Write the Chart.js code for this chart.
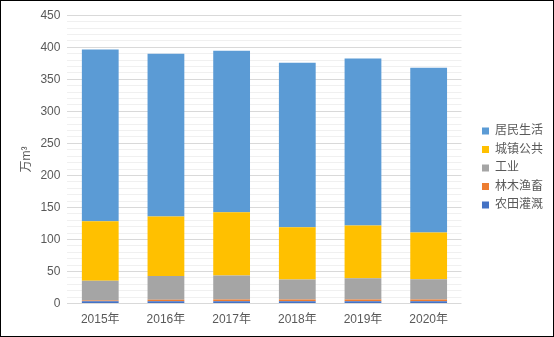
<!DOCTYPE html>
<html lang="zh">
<head>
<meta charset="UTF-8">
<script src="https://cdn.jsdelivr.net/npm/chart.js@4/dist/chart.umd.min.js"></script>
<title>用水量</title>
<style>
    html, body { margin: 0; padding: 0; background: #fff; }
    #box {
        width: 552px;
        height: 335px;
        border: 1px solid #000;
        position: relative;
    }
</style>
</head>
<body>
<div id="box"><canvas id="c"></canvas></div>
<script>
const years = ['2015年', '2016年', '2017年', '2018年', '2019年', '2020年'];
const farm = [3.5, 3.5, 3.5, 3.5, 3.5, 3.5];          // 农田灌溉
const forest = [1.5, 2.5, 3, 3, 3, 3];                // 林木渔畜
const industry = [30.6, 37, 37.5, 31, 33, 31.5];      // 工业
const publicUse = [93, 93, 98.7, 81.5, 82.5, 73];     // 城镇公共
const resident = [268, 254, 252, 257, 260.5, 257];    // 居民生活

const font = "'Liberation Sans', 'Noto Sans CJK SC', sans-serif";
const grey = '#595959';
const legendGap = 14;

function ds(label, data, color) {
    return {
        label: label,
        data: data,
        backgroundColor: color,
        borderWidth: 0,
        barPercentage: 0.56,
        categoryPercentage: 1
    };
}

// leave some empty space between plot and legend
const legendSpace = {
    id: 'legendSpace',
    beforeInit(chart) {
        const fit = chart.legend.fit;
        chart.legend.fit = function () {
            fit.call(this);
            this.width += legendGap;
        };
    },
    afterLayout(chart) {
        chart.legend.left += legendGap;
    }
};

new Chart(document.getElementById('c'), {
    type: 'bar',
    data: {
        labels: years,
        datasets: [
            ds('农田灌溉', farm, '#4472C4'),
            ds('林木渔畜', forest, '#ED7D31'),
            ds('工业', industry, '#A5A5A5'),
            ds('城镇公共', publicUse, '#FFC000'),
            ds('居民生活', resident, '#5B9BD5')
        ]
    },
    plugins: [legendSpace],
    options: {
        responsive: true,
        maintainAspectRatio: false,
        animation: false,
        layout: { padding: { left: 16, right: 0, top: 7, bottom: 8 } },
        plugins: {
            tooltip: { enabled: false },
            legend: {
                position: 'right',
                reverse: true,
                labels: {
                    boxWidth: 7,
                    boxHeight: 7,
                    padding: 6.5,
                    color: grey,
                    font: { family: font, size: 12 }
                }
            }
        },
        scales: {
            x: {
                stacked: true,
                grid: { display: false },
                border: { display: false },
                ticks: { color: grey, font: { family: font, size: 12 }, padding: 1 }
            },
            y: {
                stacked: true,
                min: 0,
                max: 450,
                border: { display: false },
                grid: {
                    color: c => (c.tick && c.tick.value % 50 === 0) ? '#d9d9d9' : '#f0f0f0',
                    drawTicks: false
                },
                ticks: {
                    stepSize: 10,
                    autoSkip: false,
                    color: grey,
                    padding: 7,
                    font: { family: font, size: 12 },
                    callback: v => v % 50 === 0 ? v : ''
                },
                title: {
                    display: true,
                    text: '万m³',
                    color: grey,
                    font: { family: font, size: 12 },
                    padding: { top: 2, bottom: 0 }
                }
            }
        }
    }
});
</script>
</body>
</html>
